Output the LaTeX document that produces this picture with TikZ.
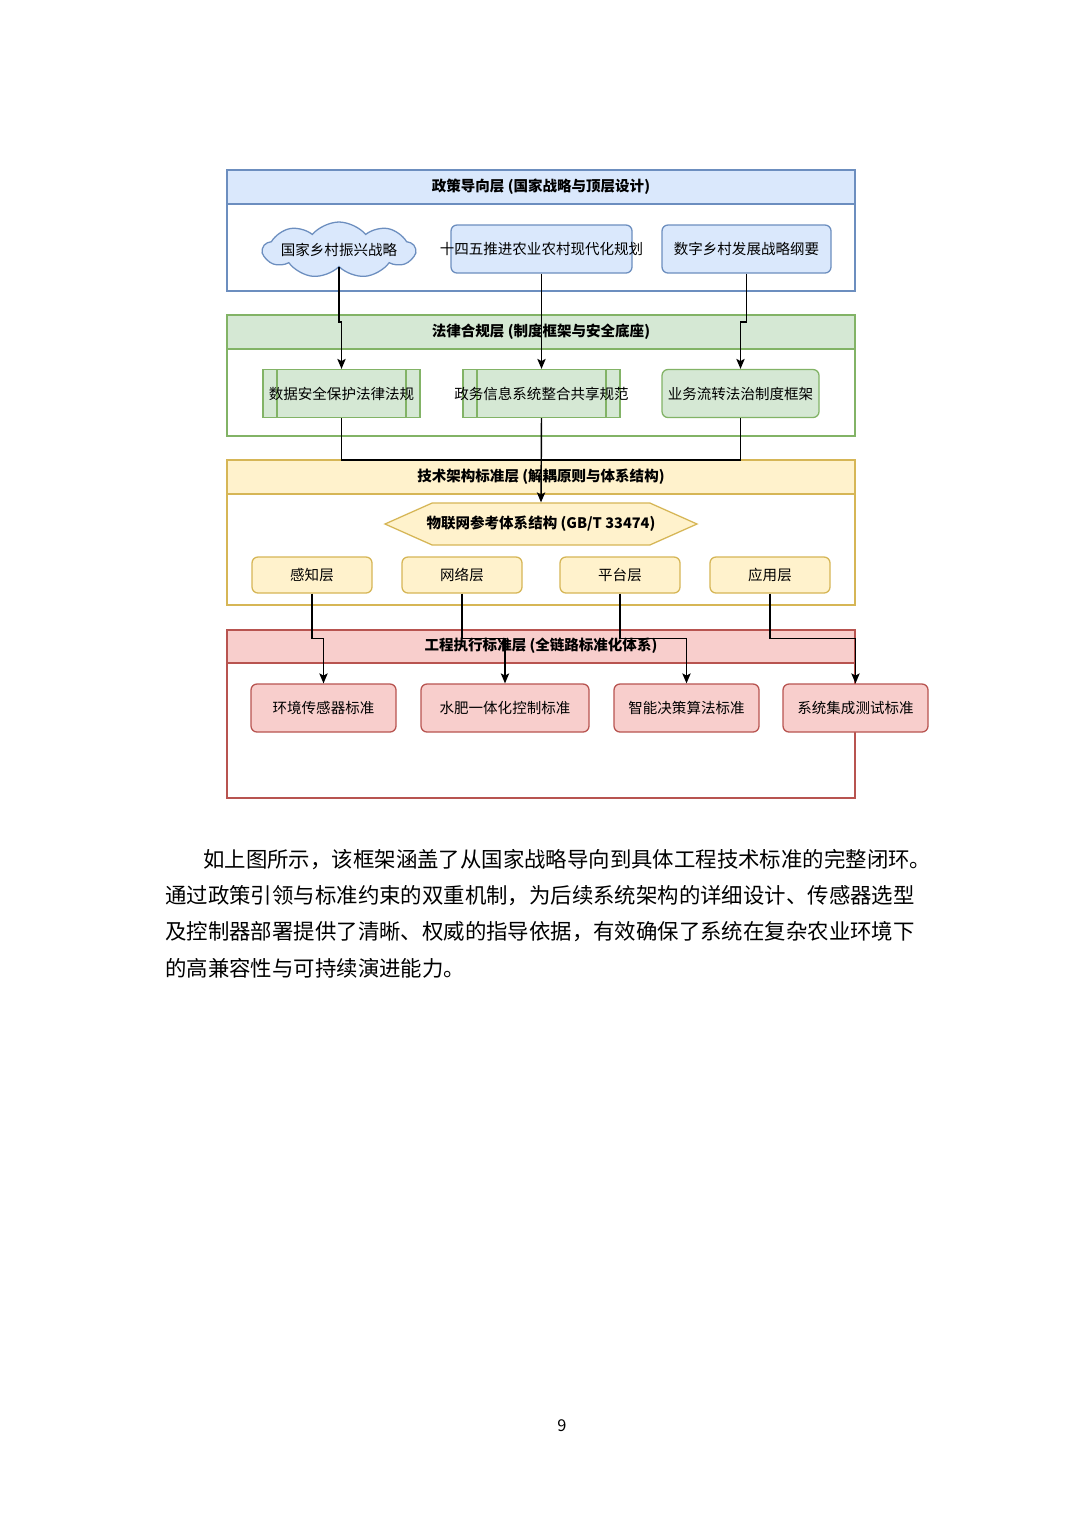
\documentclass[tikz,border=0pt]{standalone}
\usepackage{fontspec}
\setmainfont{Noto Sans CJK SC}
\usepackage{tikz}
\usetikzlibrary{calc,arrows.meta,positioning,shapes.geometric,shapes.symbols}
\definecolor{polfill}{HTML}{DAE8FC}
\definecolor{poldraw}{HTML}{6C8EBF}
\definecolor{lawfill}{HTML}{D5E8D4}
\definecolor{lawdraw}{HTML}{82B366}
\definecolor{tecfill}{HTML}{FFF2CC}
\definecolor{tecdraw}{HTML}{D6B656}
\definecolor{engfill}{HTML}{F8CECC}
\definecolor{engdraw}{HTML}{B85450}
\newcommand{\pxu}{0.5512pt}
\newcommand{\dfont}{\fontsize{8pt}{9.6pt}\selectfont}
\newcommand{\bodyf}{\fontsize{11.8pt}{14pt}\selectfont}
\newcommand{\ovf}[1]{\makebox[0pt]{#1}}
\tikzset{
  ar/.style={-{Stealth[length=5.5pt,width=4.6pt,inset=1.2pt]},line width=0.8pt,black},
  ln/.style={line width=0.8pt,black},
  cont/.style={line width=0.7pt,draw=#1draw,fill=white},
  band/.style={line width=0.7pt,draw=#1draw,fill=#1fill},
  ttl/.style={font=\dfont\bfseries,inner sep=0pt},
  box/.style={rounded corners=3.3pt,draw=#1draw,fill=#1fill,line width=0.7pt,
    minimum height=48*\pxu,inner sep=0pt,font=\dfont},
  proc/.style={draw=lawdraw,fill=lawfill,line width=0.7pt,minimum height=48*\pxu,
    minimum width=157*\pxu,inner sep=0pt,font=\dfont,
    path picture={
      \draw[lawdraw,line width=0.7pt] ([xshift=7.7pt]path picture bounding box.north west)
        -- ([xshift=7.7pt]path picture bounding box.south west);
      \draw[lawdraw,line width=0.7pt] ([xshift=-7.7pt]path picture bounding box.north east)
        -- ([xshift=-7.7pt]path picture bounding box.south east);}},
  para/.style={anchor=west,inner sep=0pt,font=\bodyf}
}

\begin{document}
\begin{tikzpicture}[x=0.5512pt,y=-0.5512pt]
\fill[white] (0,0) rectangle (1080,1528);
\useasboundingbox (0,0) rectangle (1080,1528);

% layer containers
\draw[cont=pol] (227,170) rectangle (855,291);
\draw[band=pol] (227,170) rectangle (855,204);
\draw[cont=law] (227,315) rectangle (855,436);
\draw[band=law] (227,315) rectangle (855,349);
\draw[cont=tec] (227,460) rectangle (855,605);
\draw[band=tec] (227,460) rectangle (855,494);
\draw[cont=eng] (227,630) rectangle (855,798);
\draw[band=eng] (227,630) rectangle (855,663);

\node[ttl] (tpol) at (541,187) {政策导向层 (国家战略与顶层设计)};
\node[ttl] (tlaw) at (541,332) {法律合规层 (制度框架与安全底座)};
\node[ttl] (ttec) at (541,477) {技术架构标准层 (解耦原则与体系结构)};
\node[ttl] (teng) at (541,646) {工程执行标准层 (全链路标准化体系)};

% policy layer
\node[cloud,cloud puffs=9,cloud puff arc=100,aspect=2.8,draw=poldraw,fill=polfill,
  line width=0.7pt,minimum width=152*\pxu,minimum height=56*\pxu,inner sep=0pt,
  font=\dfont] (nat) at (339,250) {\ovf{国家乡村振兴战略}};
\node[box=pol,minimum width=181*\pxu] (plan) at (541.5,249) {\ovf{十四五推进农业农村现代化规划}};
\node[box=pol,minimum width=169*\pxu] (digi) at (746.5,249) {数字乡村发展战略纲要};

% law layer
\node[proc] (secl) at (341.5,393.5) {数据安全保护法律法规};
\node[proc] (govs) at (541.5,393.5) {\ovf{政务信息系统整合共享规范}};
\node[box=law,minimum width=157*\pxu] (bizf) at (740.5,393.5) {业务流转法治制度框架};

% tech layer
\node[signal,signal to=west and east,signal pointer angle=48,draw=tecdraw,fill=tecfill,
  line width=0.7pt,minimum width=312*\pxu,minimum height=42*\pxu,inner sep=0pt,
  font=\dfont\bfseries] (iot) at (541,524) {\ovf{物联网参考体系结构 (GB/T 33474)}};
\node[box=tec,minimum width=120*\pxu,minimum height=36*\pxu] (perc) at (312,575) {感知层};
\node[box=tec,minimum width=120*\pxu,minimum height=36*\pxu] (netw) at (462,575) {网络层};
\node[box=tec,minimum width=120*\pxu,minimum height=36*\pxu] (plat) at (620,575) {平台层};
\node[box=tec,minimum width=120*\pxu,minimum height=36*\pxu] (appl) at (770,575) {应用层};

% engineering layer
\node[box=eng,minimum width=145*\pxu] (envs) at (323.5,708) {环境传感器标准};
\node[box=eng,minimum width=168*\pxu] (wfin) at (505,708) {水肥一体化控制标准};
\node[box=eng,minimum width=145*\pxu] (algo) at (686.5,708) {智能决策算法标准};
\node[box=eng,minimum width=145*\pxu] (sint) at (855.5,708) {系统集成测试标准};

% connectors
\draw[ar] (nat.south) -- ($(nat.south |- secl.north)+(0,-47)$) -| (secl.north);
\draw[ar] (plan.south) -- (govs.north);
\draw[ar] (digi.south) -- ($(digi.south |- bizf.north)+(0,-47)$) -| (bizf.north);
\coordinate (join) at (541.5,460);
\draw[ln] (secl.south) |- (join);
\draw[ln] (bizf.south) |- (join);
\draw[ar] (govs.south) -- (iot.north);
\draw[ar] (perc.south) -- ++(0,45) -| (envs.north);
\draw[ar] (netw.south) -- ++(0,45) -| (wfin.north);
\draw[ar] (plat.south) -- ++(0,45) -| (algo.north);
\draw[ar] (appl.south) -- ++(0,45) -| (sint.north);

% body text
\node[para] (p1) at (203,860) {如上图所示，该框架涵盖了从国家战略导向到具体工程技术标准的完整闭环。};
\node[para] (p2) at (165,896) {通过政策引领与标准约束的双重机制，为后续系统架构的详细设计、传感器选型};
\node[para] (p3) at (165,932) {及控制器部署提供了清晰、权威的指导依据，有效确保了系统在复杂农业环境下};
\node[para] (p4) at (165,968) {的高兼容性与可持续演进能力。};
\node[font=\fontsize{9pt}{11pt}\selectfont,inner sep=0pt] (pg) at (562,1426) {9};
\end{tikzpicture}
\end{document}
